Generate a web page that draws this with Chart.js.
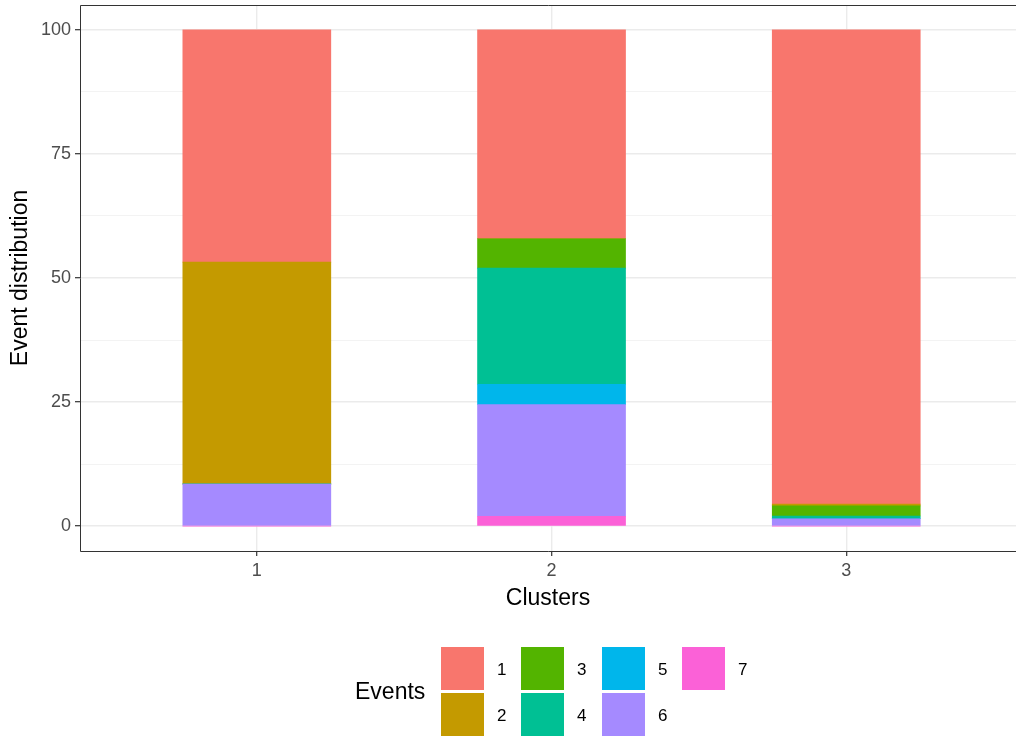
<!DOCTYPE html>
<html>
<head>
<meta charset="utf-8">
<script src="https://cdn.jsdelivr.net/npm/chart.js@4.4.1/dist/chart.umd.min.js"></script>
<style>
  html, body { margin: 0; padding: 0; background: #fff; }
  #wrap { position: relative; width: 1016px; height: 736px; overflow: hidden; font-family: "Liberation Sans", Arial, sans-serif; }
  #c { position: absolute; left: 0; top: 0; }
  .lg-title { position: absolute; font-size: 23px; color: #000; line-height: 1; }
  .lg-key { position: absolute; width: 43px; height: 43px; }
  .lg-lab { position: absolute; font-size: 17px; color: #000; line-height: 1; }
</style>
</head>
<body>
<div id="wrap">
  <canvas id="c" width="1016" height="736"></canvas>
  <div id="legend"></div>
</div>
<script>
// ---- data ----
const clusters = ['1', '2', '3'];
const eventNames = ['1', '2', '3', '4', '5', '6', '7'];
const event1 = [46.8, 42.1, 95.55];
const event2 = [44.7, 0, 0.35];
const event3 = [0, 5.9, 2.05];
const event4 = [0, 23.4, 0.55];
const event5 = [0, 4.1, 0];
const event6 = [8.5, 22.5, 1.5];
const event7 = [0, 2.0, 0];
const yTickValues = [0, 25, 50, 75, 100];
const eventColors = ['#F8766D', '#C49A00', '#53B400', '#00C094', '#00B6EB', '#A58AFF', '#FB61D7'];

const seriesValues = [event1, event2, event3, event4, event5, event6, event7];

// ggplot stacks level 1 on top, so last-level dataset goes first (bottom)
const datasets = seriesValues.map((vals, i) => ({
  label: eventNames[i],
  data: vals.map((v, j) => ({ x: Number(clusters[j]), y: v })),
  backgroundColor: eventColors[i],
  borderWidth: 0,
  barThickness: 148,
  order: seriesValues.length - i
}));

// minor grid values = midpoints of major ticks
const yAllTicks = [];
yTickValues.forEach((v, i) => {
  yAllTicks.push(v);
  if (i < yTickValues.length - 1) yAllTicks.push((v + yTickValues[i + 1]) / 2);
});
const isMajor = v => yTickValues.includes(v);

const panelBorder = {
  id: 'panelBorder',
  afterDraw(chart) {
    const { ctx, chartArea: a } = chart;
    const l = Math.round(a.left) + 0.5, t = Math.round(a.top) + 0.5, b = Math.round(a.bottom) + 0.5;
    ctx.save();
    ctx.strokeStyle = '#333333';
    ctx.lineWidth = 1;
    ctx.beginPath();
    ctx.moveTo(a.right + 10, t);
    ctx.lineTo(l, t);
    ctx.lineTo(l, b);
    ctx.lineTo(a.right + 10, b);
    ctx.stroke();
    ctx.restore();
  }
};

Chart.defaults.font.family = '"Liberation Sans", Arial, sans-serif';

new Chart(document.getElementById('c'), {
  type: 'bar',
  data: { datasets },
  options: {
    responsive: false,
    animation: false,
    devicePixelRatio: 1,
    layout: { padding: { top: 5, right: 0, left: 0, bottom: 124 } },
    plugins: { legend: { display: false }, tooltip: { enabled: false } },
    scales: {
      x: {
        type: 'linear',
        stacked: true,
        offset: false,
        min: 0.4,
        max: 3.576,
        afterBuildTicks: s => { s.ticks = clusters.map(c => ({ value: Number(c) })); },
        afterFit: s => { s.height = 61; s.paddingLeft = 0; s.paddingRight = 0; },
        ticks: {
          autoSkip: false,
          color: '#4D4D4D',
          font: { size: 18 },
          padding: 4,
          maxRotation: 0,
          callback: (v) => clusters[clusters.indexOf(String(v))] ?? ''
        },
        grid: { offset: false, color: '#EBEBEB', lineWidth: 1.4, tickLength: 5, tickColor: '#333333', tickWidth: 1.2 },
        border: { display: false },
        title: { display: true, text: 'Clusters', color: '#000', font: { size: 23 }, padding: 0 }
      },
      y: {
        stacked: true,
        min: -5,
        max: 105,
        afterBuildTicks: s => { s.ticks = yAllTicks.map(v => ({ value: v })); },
        afterFit: s => { s.width = 80; s.paddingTop = 0; s.paddingBottom = 0; },
        ticks: {
          autoSkip: false,
          color: '#4D4D4D',
          font: { size: 18 },
          padding: 4,
          callback: v => isMajor(v) ? String(v) : ''
        },
        grid: {
          color: c => isMajor(c.tick.value) ? '#EBEBEB' : '#F2F2F2',
          lineWidth: c => isMajor(c.tick.value) ? 1.4 : 0.9,
          tickLength: 5,
          tickColor: c => isMajor(c.tick.value) ? '#333333' : 'rgba(0,0,0,0)',
          tickWidth: 1.2
        },
        border: { display: false },
        title: { display: true, text: 'Event distribution', color: '#000', font: { size: 23 }, padding: { top: 7, bottom: 0 } }
      }
    }
  },
  plugins: [panelBorder]
});

// ---- legend (ggplot style, 2 rows, filled column-wise) ----
const lg = document.getElementById('legend');
const title = document.createElement('div');
title.className = 'lg-title';
title.textContent = 'Events';
title.style.left = '355px';
title.style.top = '680px';
lg.appendChild(title);
const colX = [441, 521, 602, 682];
const rowY = [647, 693];
eventNames.forEach((name, i) => {
  const col = Math.floor(i / 2), row = i % 2;
  const k = document.createElement('div');
  k.className = 'lg-key';
  k.style.left = colX[col] + 'px';
  k.style.top = rowY[row] + 'px';
  k.style.background = eventColors[i];
  lg.appendChild(k);
  const t = document.createElement('div');
  t.className = 'lg-lab';
  t.textContent = name;
  t.style.left = (colX[col] + 56) + 'px';
  t.style.top = (rowY[row] + 14) + 'px';
  lg.appendChild(t);
});
</script>
</body>
</html>
